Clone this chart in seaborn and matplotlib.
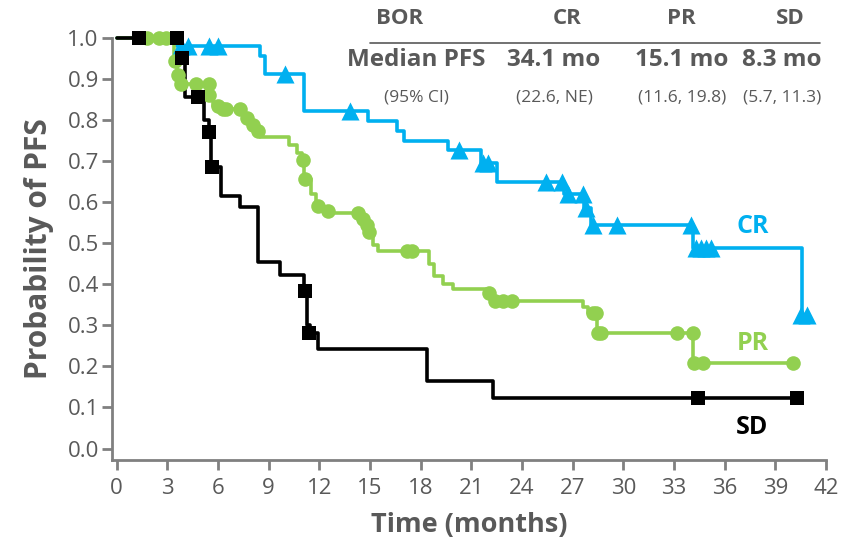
import pandas as pd
import numpy as np
import matplotlib
matplotlib.use('Agg')
import matplotlib.pyplot as plt
import seaborn as sns

# ---------------- data ----------------
# step points: time where the new level starts, level after the drop
cr_t = [0.0, 3.6, 8.5, 8.8, 11.1, 14.9, 16.6, 17.0, 19.6, 21.6, 22.5, 26.5, 27.7, 28.1, 34.1, 40.6, 40.9]
cr_s = [1.0, 0.980, 0.955, 0.913, 0.821, 0.797, 0.773, 0.750, 0.726, 0.695, 0.648, 0.620, 0.586, 0.545, 0.488, 0.320, 0.320]
cr_cens_t = [3.8, 4.25, 5.5, 6.0, 10.0, 13.8, 20.3, 21.7, 22.0, 25.4, 26.4, 26.7, 27.6, 27.8, 28.2, 29.6,
             34.0, 34.3, 34.6, 34.9, 35.2, 40.5, 40.9]
cr_cens_s = [0.98, 0.98, 0.98, 0.98, 0.913, 0.821, 0.726, 0.695, 0.695, 0.648, 0.648, 0.620, 0.620, 0.586, 0.545, 0.545,
             0.545, 0.488, 0.488, 0.488, 0.488, 0.325, 0.325]

pr_t = [0.0, 3.4, 3.6, 3.75, 5.4, 5.7, 6.2, 7.6, 8.0, 8.3, 8.5, 10.2, 10.7, 11.0, 11.1, 11.5, 11.8, 12.3, 12.7,
        14.4, 14.7, 14.9, 15.2, 15.5, 18.5, 18.8, 19.3, 19.9, 22.0, 22.3, 27.6, 27.9, 28.45, 34.15, 40.05]
pr_s = [1.0, 0.943, 0.911, 0.887, 0.860, 0.835, 0.826, 0.805, 0.789, 0.773, 0.760, 0.740, 0.720, 0.704, 0.657, 0.620,
        0.590, 0.578, 0.574, 0.560, 0.545, 0.527, 0.495, 0.482, 0.450, 0.420, 0.400, 0.388, 0.378, 0.360, 0.345,
        0.330, 0.281, 0.209, 0.209]
pr_cens_t = [1.8, 2.5, 2.9, 3.45, 3.65, 3.8, 4.7, 5.5, 5.5, 6.0, 6.3, 6.5, 7.3, 7.7, 8.05, 8.35, 11.05, 11.15,
             11.9, 12.5, 14.3, 14.6, 14.8, 14.95, 17.2, 17.5, 22.05, 22.4, 22.9, 23.4, 28.2, 28.4, 28.5, 28.7,
             33.2, 34.1, 34.2, 34.7, 40.05]
pr_cens_s = [1.0, 1.0, 1.0, 0.943, 0.911, 0.887, 0.887, 0.887, 0.860, 0.835, 0.826, 0.826, 0.826, 0.805, 0.789,
             0.773, 0.704, 0.657, 0.590, 0.578, 0.574, 0.560, 0.545, 0.527, 0.482, 0.482, 0.378, 0.360, 0.360,
             0.360, 0.330, 0.330, 0.281, 0.281, 0.281, 0.281, 0.209, 0.209, 0.209]

sd_t = [0.0, 3.75, 4.05, 5.2, 5.45, 5.6, 6.2, 7.3, 8.4, 9.7, 11.1, 11.3, 11.45, 11.9, 18.4, 22.3, 40.3]
sd_s = [1.0, 0.952, 0.857, 0.800, 0.771, 0.685, 0.616, 0.589, 0.455, 0.423, 0.384, 0.300, 0.282, 0.243,
        0.165, 0.122, 0.122]
sd_cens_t = [1.35, 3.55, 3.9, 4.85, 5.45, 5.65, 11.15, 11.4, 34.4, 40.3]
sd_cens_s = [1.0, 1.0, 0.952, 0.857, 0.771, 0.685, 0.384, 0.282, 0.122, 0.122]

x_ticks = list(range(0, 43, 3))
y_ticks = [i / 10 for i in range(11)]

table_cols = ['BOR', 'CR', 'PR', 'SD']
table_median = ['Median PFS', '34.1 mo', '15.1 mo', '8.3 mo']
table_ci = ['(95% CI)', '(22.6, NE)', '(11.6, 19.8)', '(5.7, 11.3)']

# colours
c_cr = '#00B0F0'
c_pr = '#92D050'
c_sd = '#000000'
c_txt = '#595959'
c_axis = '#808080'

sns.set_theme(style='ticks')
plt.rcParams['font.family'] = ['Open Sans', 'DejaVu Sans']

fig, ax = plt.subplots(figsize=(8.41, 5.41), dpi=100)
fig.subplots_adjust(left=112 / 841, right=826 / 841, bottom=81 / 541, top=503 / 541)

# ---------------- curves ----------------
curves = [
    (cr_t, cr_s, cr_cens_t, cr_cens_s, c_cr, '^', 13),
    (pr_t, pr_s, pr_cens_t, pr_cens_s, c_pr, 'o', 10.5),
    (sd_t, sd_s, sd_cens_t, sd_cens_s, c_sd, 's', 9.5),
]
for t, s, ct, cs, col, mk, ms in curves:
    df = pd.DataFrame({'t': t, 's': s})
    sns.lineplot(data=df, x='t', y='s', ax=ax, estimator=None, sort=False, color=col,
                 linewidth=2.6, drawstyle='steps-post', clip_on=False, legend=False)
    cdf = pd.DataFrame({'t': ct, 's': cs})
    sns.scatterplot(data=cdf, x='t', y='s', ax=ax, color=col, marker=mk, s=ms ** 2,
                    linewidth=0, clip_on=False, legend=False, zorder=3)

# ---------------- axes ----------------
ax.set_xlim(-0.27, 42)
ax.set_ylim(-0.028, 1.0)
ax.set_xticks(x_ticks)
ax.set_yticks(y_ticks)
ax.set_yticklabels([f'{v:.1f}' for v in y_ticks])
sns.despine(ax=ax)
for sp in ['left', 'bottom']:
    ax.spines[sp].set_color(c_axis)
    ax.spines[sp].set_linewidth(2)
ax.tick_params(axis='x', length=7, width=2, color=c_axis, labelsize=16, labelcolor=c_txt, pad=6)
ax.tick_params(axis='y', length=7, width=2, color=c_axis, labelsize=16, labelcolor=c_txt, pad=2.5)
ax.set_xlabel('Time (months)', fontsize=19.5, fontweight='bold', color=c_txt, labelpad=9)
ax.set_ylabel('Probability of PFS', fontsize=21.5, fontweight='bold', color=c_txt, labelpad=10)

# curve labels
ax.text(37.66, 0.54, 'CR', color=c_cr, fontsize=18, fontweight='bold', ha='center', va='center')
ax.text(37.66, 0.257, 'PR', color=c_pr, fontsize=18, fontweight='bold', ha='center', va='center')
ax.text(37.6, 0.052, 'SD', color=c_sd, fontsize=18, fontweight='bold', ha='center', va='center')

# ---------------- median table at the top ----------------
head_x = [400, 567, 681, 790]
col_x = [416, 554, 682, 782]
for i in range(4):
    fig.text(head_x[i] / 841, 1 - 18 / 541, table_cols[i], ha='center', va='center',
             fontsize=16, fontweight='bold', color=c_txt)
    fig.text(col_x[i] / 841, 1 - 60 / 541, table_median[i], ha='center', va='center',
             fontsize=17.5, fontweight='bold', color=c_txt)
    fig.text(col_x[i] / 841, 1 - 97 / 541, table_ci[i], ha='center', va='center',
             fontsize=12.5, color=c_txt)
ax.plot([370 / 841, 820 / 841], [1 - 43 / 541, 1 - 43 / 541], transform=fig.transFigure,
        color=c_txt, linewidth=1.2, clip_on=False)

plt.savefig('out.png', dpi=100)
plt.close()
